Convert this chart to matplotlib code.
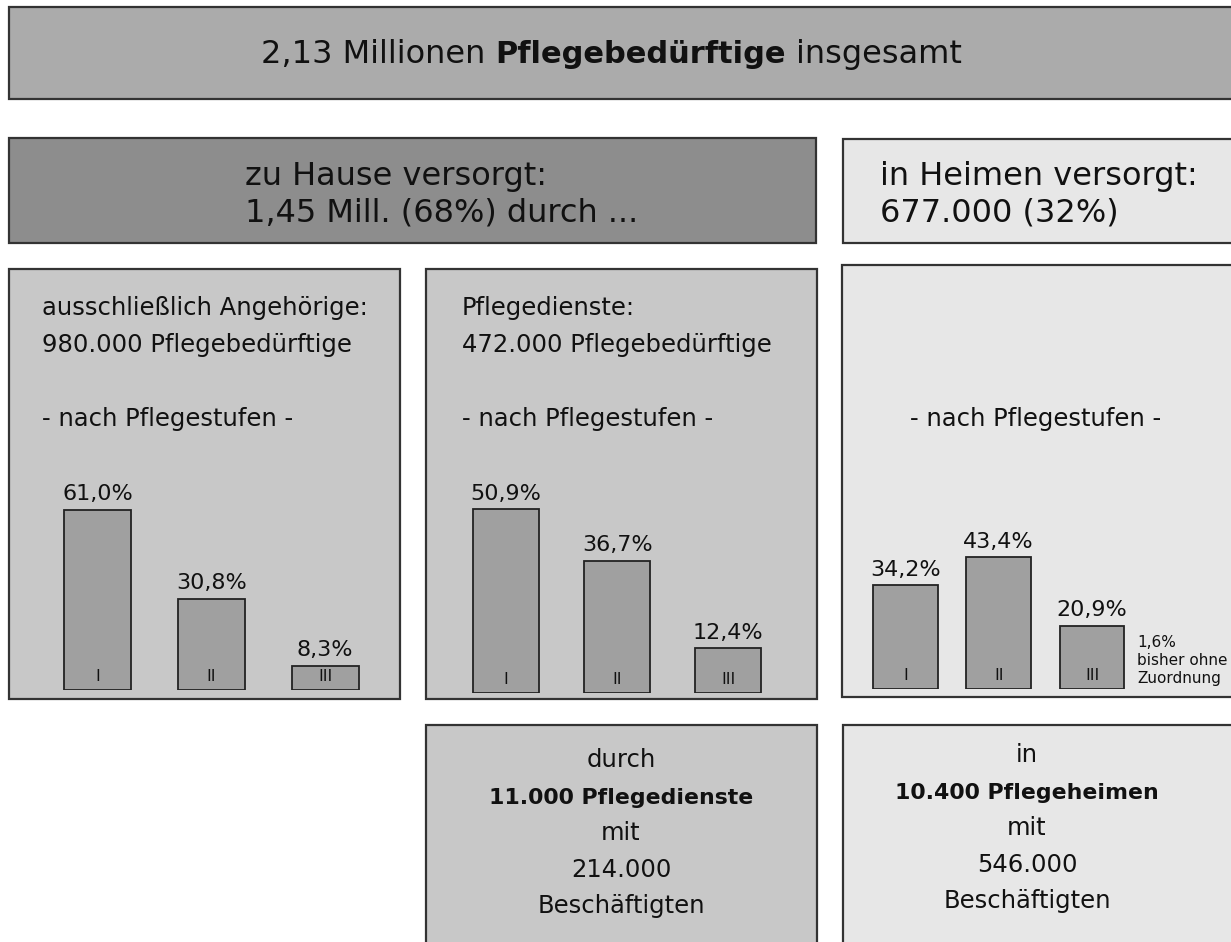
import matplotlib
matplotlib.use("Agg")
import matplotlib.pyplot as plt
from matplotlib.patches import Rectangle

# data
stufen = ["I", "II", "III"]
angehoerige = [61.0, 30.8, 8.3]
pflegedienste = [50.9, 36.7, 12.4]
heime = [34.2, 43.4, 20.9]
ohne_zuordnung = 1.6

gesamt_mio = "2,13"
zuhause_text = ["zu Hause versorgt:", "1,45 Mill. (68%) durch ..."]
heime_text = ["in Heimen versorgt:", "677.000 (32%)"]
angeh_text = ["ausschließlich Angehörige:", "980.000 Pflegebedürftige"]
dienste_text = ["Pflegedienste:", "472.000 Pflegebedürftige"]
dienste_unten = ["durch", "11.000 Pflegedienste", "mit", "214.000", "Beschäftigten"]
heime_unten = ["in", "10.400 Pflegeheimen", "mit", "546.000", "Beschäftigten"]

W, H = 1231, 942
plt.rcParams["font.family"] = "DejaVu Sans"
plt.rcParams["text.color"] = "#111111"
fig = plt.figure(figsize=(W / 100, H / 100), dpi=100)
fig.patch.set_facecolor("white")
ax = fig.add_axes([0, 0, 1, 1])
ax.set_xlim(0, W)
ax.set_ylim(H, 0)
ax.axis("off")

EDGE = "#333333"


def box(x0, y0, x1, y1, color):
    ax.add_patch(Rectangle((x0, y0), x1 - x0, y1 - y0, facecolor=color,
                           edgecolor=EDGE, linewidth=1.6))


box(9, 7, 1260, 99, "#ababab")
box(9, 138, 816, 243, "#8d8d8d")
box(843, 139, 1260, 243, "#e7e7e7")
box(9, 269, 400, 699, "#c8c8c8")
box(426, 269, 817, 699, "#c8c8c8")
box(842, 265, 1260, 697, "#e7e7e7")
box(426, 725, 817, 960, "#c8c8c8")
box(843, 725, 1260, 960, "#e7e7e7")

# title with bold middle part
renderer = fig.canvas.get_renderer()
pieces = [(gesamt_mio + " Millionen", "normal", 23),
          ("Pflegebedürftige", "bold", 22),
          ("insgesamt", "normal", 23)]
x = 261
for txt, wt, fs in pieces:
    t = ax.text(x, 63, txt, fontsize=fs, fontweight=wt, ha="left", va="baseline")
    w = t.get_window_extent(renderer).width
    x += w + 0.318 * fs * 100 / 72

for i, line in enumerate(zuhause_text):
    ax.text(245, 185 + 37 * i, line, fontsize=23, ha="left", va="baseline")
for i, line in enumerate(heime_text):
    ax.text(880, 185 + 37 * i, line, fontsize=23, ha="left", va="baseline")

for i, line in enumerate(angeh_text):
    ax.text(42, 315 + 37 * i, line, fontsize=17.5, ha="left", va="baseline")
for i, line in enumerate(dienste_text):
    ax.text(462, 315 + 37 * i, line, fontsize=17.5, ha="left", va="baseline")
ax.text(42, 426, "- nach Pflegestufen -", fontsize=17.5, ha="left", va="baseline")
ax.text(462, 426, "- nach Pflegestufen -", fontsize=17.5, ha="left", va="baseline")
ax.text(1036, 426, "- nach Pflegestufen -", fontsize=17.5, ha="center", va="baseline")

for i, line in enumerate(dienste_unten):
    bold = i == 1
    ax.text(621, 767 + 36.6 * i, line, fontsize=15.8 if bold else 17.5,
            fontweight="bold" if bold else "normal", ha="center", va="baseline")
for i, line in enumerate(heime_unten):
    bold = i == 1
    ax.text(1027, 762 + 36.6 * i, line, fontsize=15.8 if bold else 17.5,
            fontweight="bold" if bold else "normal", ha="center", va="baseline")


def fmt(v):
    return f"{v:.1f}%".replace(".", ",")


def bar_panel(values, c0, spacing, width_px, base, scale):
    top = 440
    left = c0 - spacing / 2
    bx = fig.add_axes([left / W, 1 - base / H, 3 * spacing / W, (base - top) / H])
    bx.patch.set_visible(False)
    bx.axis("off")
    bx.set_xlim(-0.5, 2.5)
    bx.set_ylim(0, (base - top) / scale)
    bx.bar(range(3), values, width=width_px / spacing, color="#a0a0a0",
           edgecolor="#222222", linewidth=1.3)
    for i, v in enumerate(values):
        bx.annotate(fmt(v), (i, v), xytext=(0, 7), textcoords="offset points",
                    ha="center", va="baseline", fontsize=16, annotation_clip=False)
        bx.annotate(stufen[i], (i, 0), xytext=(0, 6.5), textcoords="offset points",
                    ha="center", va="baseline", fontsize=11.5, annotation_clip=False)
    return bx


bar_panel(angehoerige, 97.8, 113.7, 67, 690, 2.95)
bar_panel(pflegedienste, 506.2, 111, 66, 693, 3.61)
bar_panel(heime, 905.3, 93.4, 64.5, 689, 3.03)

note = [fmt(ohne_zuordnung), "bisher ohne", "Zuordnung"]
for i, line in enumerate(note):
    ax.text(1137, 647 + 18 * i, line, fontsize=11, ha="left", va="baseline")

fig.savefig("out.png", dpi=100, facecolor="white")
